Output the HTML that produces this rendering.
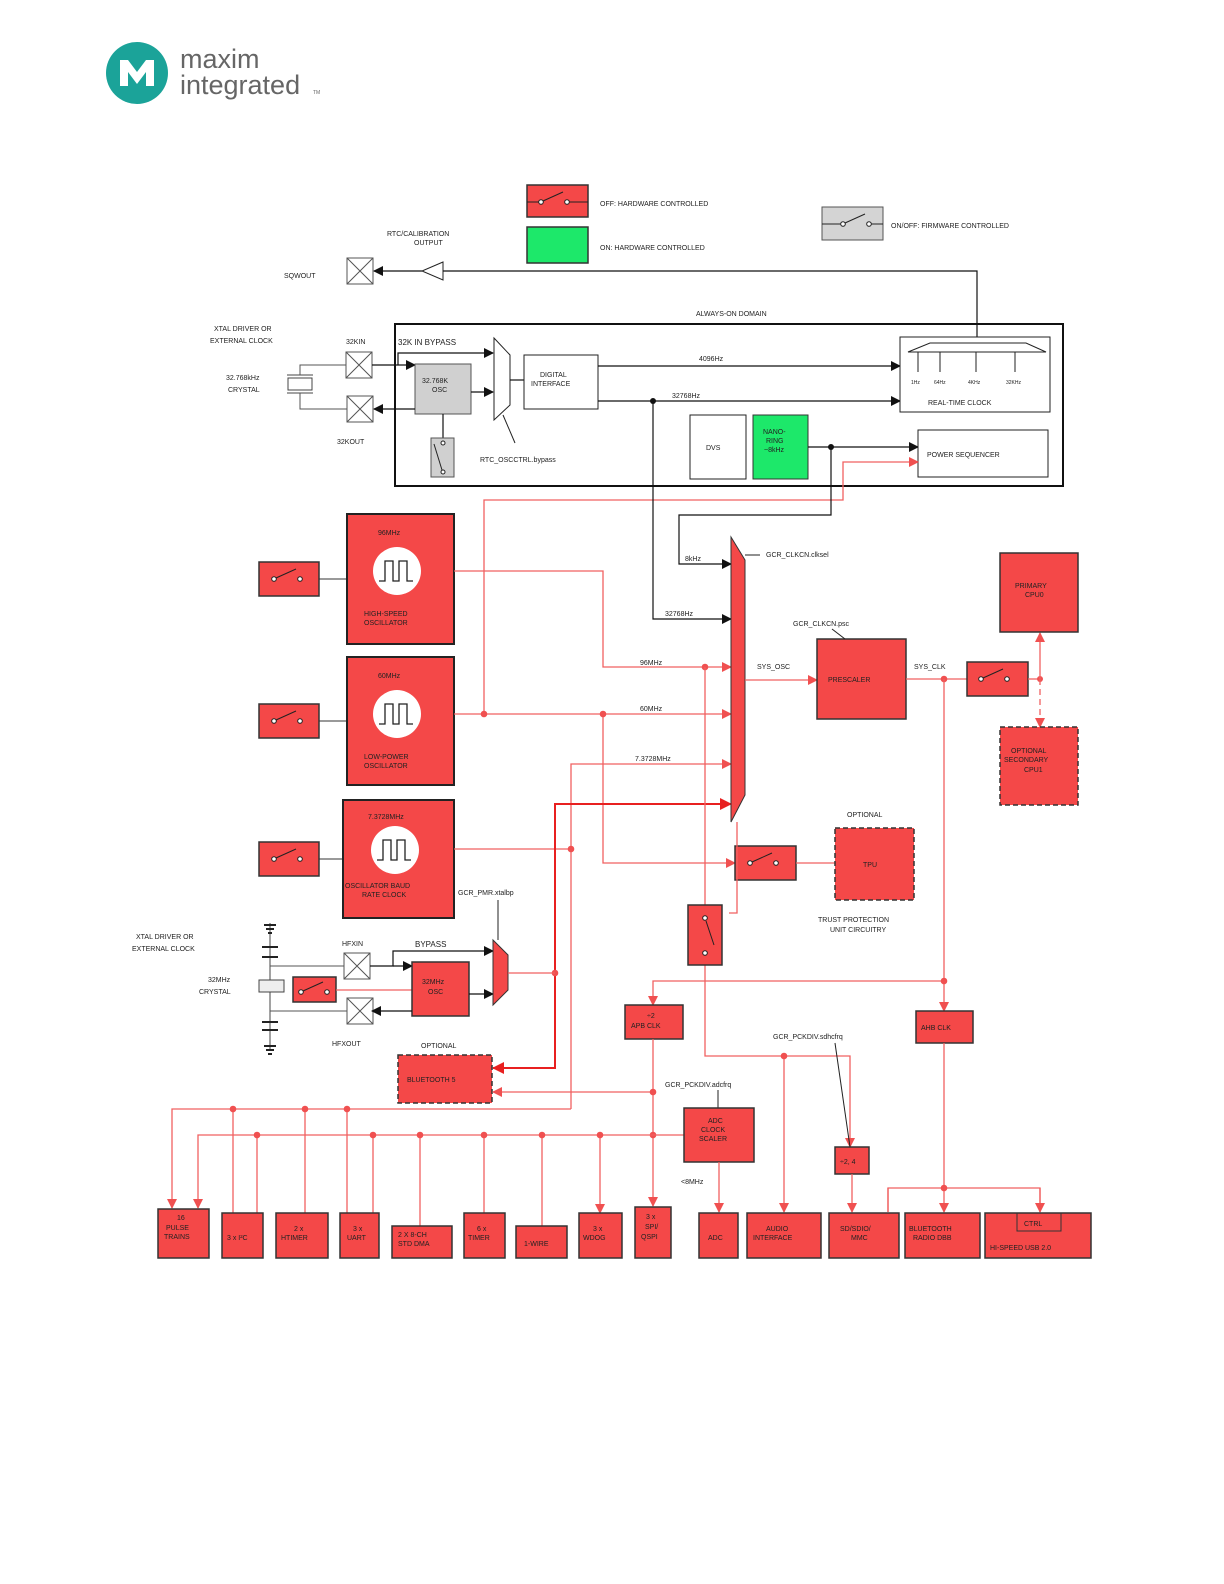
<!DOCTYPE html>
<html><head><meta charset="utf-8"><style>
html,body{margin:0;padding:0;background:#fff;overflow:hidden;width:1224px;height:1584px}
svg{display:block}
text{font-family:"Liberation Sans",sans-serif;font-size:7px;fill:#222}
.r{fill:#f44848;stroke:#333;stroke-width:1.5}
.rd{fill:#f44848;stroke:#333;stroke-width:1.5;stroke-dasharray:5 3}
.w{fill:#fff;stroke:#222;stroke-width:1}
.k{stroke:#111;stroke-width:1.2;fill:none}
.l{stroke:#f06060;stroke-width:1.3;fill:none}
.lb{stroke:#e82020;stroke-width:2;fill:none}
.dr{fill:#f05050}
</style></head><body>
<svg width="1224" height="1584" viewBox="0 0 1224 1584" xmlns="http://www.w3.org/2000/svg">
<defs>
<marker id="ak" markerWidth="10" markerHeight="10" refX="9" refY="5" orient="auto" markerUnits="userSpaceOnUse"><path d="M0,0 L10,5 L0,10z" fill="#111"/></marker>
<marker id="ar" markerWidth="10" markerHeight="10" refX="9" refY="5" orient="auto" markerUnits="userSpaceOnUse"><path d="M0,0 L10,5 L0,10z" fill="#f05050"/></marker>
<marker id="arb" markerWidth="12" markerHeight="12" refX="11" refY="6" orient="auto" markerUnits="userSpaceOnUse"><path d="M0,0 L12,6 L0,12z" fill="#e82020"/></marker>
<g id="pad"><rect x="0" y="0" width="26" height="26" fill="#fff" stroke="#555"/><path d="M0,0L26,26M26,0L0,26" stroke="#555"/></g>
<g id="sw"><circle cx="0" cy="0" r="2.3" fill="#fff" stroke="#222"/><circle cx="26" cy="0" r="2.3" fill="#fff" stroke="#222"/><path d="M2,-1L22,-10" stroke="#222"/></g>
<g id="osc"><circle cx="0" cy="0" r="24" fill="#fff"/><path d="M-18,10H-12V-10H-4V10H2V-10H10V10H16" stroke="#222" fill="none" stroke-width="1.3"/></g>
</defs>

<!-- logo -->
<circle cx="137" cy="73" r="31" fill="#1ba399"/>
<path d="M120,60h8l9,12l9,-12h8v26h-8v-14l-9,12l-9,-12v14h-8z" fill="#fff"/>
<text x="180" y="68" style="font-size:27px;fill:#666">maxim</text>
<text x="180" y="94" style="font-size:27px;fill:#666">integrated</text>
<text x="313" y="94" style="font-size:5px;fill:#666">TM</text>

<!-- legend -->
<rect x="527" y="185" width="61" height="32" class="r"/>
<use href="#sw" x="541" y="202"/><path d="M527,202h12M569,202h19" stroke="#222"/>
<text x="600" y="206">OFF: HARDWARE CONTROLLED</text>
<rect x="527" y="227" width="61" height="36" fill="#1de86a" stroke="#333" stroke-width="1.5"/>
<text x="600" y="250">ON: HARDWARE CONTROLLED</text>
<rect x="822" y="207" width="61" height="33" fill="#d4d4d4" stroke="#555"/>
<use href="#sw" x="843" y="224"/><path d="M822,224h19M871,224h12" stroke="#222"/>
<text x="891" y="228">ON/OFF: FIRMWARE CONTROLLED</text>

<!-- SQWOUT -->
<use href="#pad" x="347" y="258"/>
<text x="284" y="278">SQWOUT</text>
<text x="387" y="236">RTC/CALIBRATION</text><text x="414" y="245">OUTPUT</text>
<path d="M443,262L422,271L443,280z" fill="#fff" stroke="#222"/>
<path d="M977,340V271H443" class="k"/><path d="M422,271H374" class="k" marker-end="url(#ak)"/>

<!-- always on -->
<text x="696" y="316">ALWAYS-ON DOMAIN</text>
<rect x="395" y="324" width="668" height="162" fill="none" stroke="#111" stroke-width="2"/>
<text x="214" y="331">XTAL DRIVER OR</text><text x="210" y="343">EXTERNAL CLOCK</text>
<text x="346" y="344">32KIN</text>
<use href="#pad" x="346" y="352"/>
<text x="226" y="380">32.768kHz</text><text x="228" y="392">CRYSTAL</text>
<rect x="288" y="378" width="24" height="12" fill="#fff" stroke="#444"/><path d="M287,375h26M287,393h26" stroke="#444"/>
<path d="M300,375V365H346M300,393V409H347" stroke="#555" fill="none"/>
<use href="#pad" x="347" y="396"/>
<text x="337" y="444">32KOUT</text>
<text x="398" y="345" style="font-size:8px">32K IN BYPASS</text>
<path d="M372,365H415" class="k" marker-end="url(#ak)"/>
<path d="M398,365V353H493" class="k" marker-end="url(#ak)"/>
<rect x="415" y="364" width="56" height="50" fill="#d0d0d0" stroke="#555"/>
<text x="422" y="383">32.768K</text><text x="432" y="392">OSC</text>
<path d="M471,392H493" class="k" marker-end="url(#ak)"/>
<path d="M415,409H374" class="k" marker-end="url(#ak)"/>
<path d="M443,414V438" class="k"/>
<rect x="431" y="438" width="23" height="39" fill="#d0d0d0" stroke="#555"/>
<circle cx="443" cy="443" r="2" fill="#fff" stroke="#222"/><circle cx="443" cy="472" r="2" fill="#fff" stroke="#222"/><path d="M434,444L442,470" stroke="#222"/>
<path d="M494,338L510,355V405L494,420z" fill="#fff" stroke="#222"/>
<path d="M503,415L515,443" stroke="#222"/>
<text x="480" y="462">RTC_OSCCTRL.bypass</text>
<path d="M510,380H524" class="k"/>
<rect x="524" y="355" width="74" height="54" class="w"/>
<text x="540" y="377">DIGITAL</text><text x="531" y="386">INTERFACE</text>
<path d="M598,366H900" class="k" marker-end="url(#ak)"/><text x="699" y="361">4096Hz</text>
<path d="M598,401H900" class="k" marker-end="url(#ak)"/><text x="672" y="398">32768Hz</text>
<circle cx="653" cy="401" r="3" fill="#111"/>
<rect x="900" y="337" width="150" height="75" class="w"/>
<path d="M908,352L930,343H1026L1046,352z" fill="#fff" stroke="#222"/>
<path d="M918,352v20M940,352v20M976,352v20M1015,352v20" stroke="#222"/>
<text x="911" y="384" style="font-size:5px">1Hz</text><text x="934" y="384" style="font-size:5px">64Hz</text><text x="968" y="384" style="font-size:5px">4KHz</text><text x="1006" y="384" style="font-size:5px">32KHz</text>
<text x="928" y="405">REAL-TIME CLOCK</text>
<rect x="690" y="415" width="56" height="64" class="w"/><text x="706" y="450">DVS</text>
<rect x="753" y="415" width="55" height="64" fill="#1de86a" stroke="#333"/>
<text x="763" y="434">NANO-</text><text x="766" y="443">RING</text><text x="764" y="452">~8kHz</text>
<path d="M808,447H918" class="k" marker-end="url(#ak)"/><circle cx="831" cy="447" r="3" fill="#111"/>
<rect x="918" y="430" width="130" height="47" class="w"/><text x="927" y="457">POWER SEQUENCER</text>
<path d="M484,714V500H843V462H918" class="l" marker-end="url(#ar)"/>
<path d="M831,447V515H679V564H731" class="k" marker-end="url(#ak)"/><text x="685" y="561">8kHz</text>
<path d="M653,401V619H731" class="k" marker-end="url(#ak)"/><text x="665" y="616">32768Hz</text>

<!-- oscillators -->
<rect x="259" y="562" width="60" height="34" class="r"/><use href="#sw" x="274" y="579"/><path d="M319,579H347" stroke="#333"/>
<rect x="347" y="514" width="107" height="130" fill="#f44848" stroke="#222" stroke-width="2"/>
<use href="#osc" x="397" y="571"/><text x="378" y="535">96MHz</text><text x="364" y="616">HIGH-SPEED</text><text x="364" y="625">OSCILLATOR</text>
<rect x="259" y="704" width="60" height="34" class="r"/><use href="#sw" x="274" y="721"/><path d="M319,721H347" stroke="#333"/>
<rect x="347" y="657" width="107" height="128" fill="#f44848" stroke="#222" stroke-width="2"/>
<use href="#osc" x="397" y="714"/><text x="378" y="678">60MHz</text><text x="364" y="759">LOW-POWER</text><text x="364" y="768">OSCILLATOR</text>
<rect x="259" y="842" width="60" height="34" class="r"/><use href="#sw" x="274" y="859"/><path d="M319,859H343" stroke="#333"/>
<rect x="343" y="800" width="111" height="118" fill="#f44848" stroke="#222" stroke-width="2"/>
<use href="#osc" x="395" y="850"/><text x="368" y="819">7.3728MHz</text><text x="345" y="888">OSCILLATOR BAUD</text><text x="362" y="897">RATE CLOCK</text>

<!-- main mux -->
<path d="M454,571H603V667H731" class="l" marker-end="url(#ar)"/><text x="640" y="665">96MHz</text>
<path d="M454,714H731" class="l" marker-end="url(#ar)"/><text x="640" y="711">60MHz</text>
<path d="M603,714V863H735" class="l" marker-end="url(#ar)"/>
<path d="M454,849H571" class="l"/>
<path d="M571,1109V764H731" class="l" marker-end="url(#ar)"/><text x="635" y="761">7.3728MHz</text>
<path d="M555,973V804H731" class="lb" marker-end="url(#arb)"/>
<path d="M555,973V1068H493" class="lb" marker-end="url(#arb)"/>
<circle cx="484" cy="714" r="3.3" class="dr"/><circle cx="603" cy="714" r="3.3" class="dr"/><circle cx="705" cy="667" r="3.3" class="dr"/><circle cx="571" cy="849" r="3.3" class="dr"/><circle cx="555" cy="973" r="3.3" class="dr"/>
<path d="M731,537L745,560V795L731,822z" fill="#f44848" stroke="#333"/>
<path d="M745,555H760" stroke="#222"/><text x="766" y="557">GCR_CLKCN.clksel</text>
<path d="M745,680H817" class="l" marker-end="url(#ar)"/><text x="757" y="669">SYS_OSC</text>
<rect x="817" y="639" width="89" height="80" class="r"/><text x="828" y="682">PRESCALER</text>
<text x="793" y="626">GCR_CLKCN.psc</text><path d="M832,629L845,639" stroke="#222"/>
<path d="M906,679H967" class="l"/><text x="914" y="669">SYS_CLK</text><circle cx="944" cy="679" r="3.3" class="dr"/>
<rect x="967" y="662" width="61" height="34" class="r"/><use href="#sw" x="981" y="679"/>
<path d="M1028,679H1040" class="l"/><circle cx="1040" cy="679" r="3" class="dr"/>
<path d="M1040,679V633" class="l" marker-end="url(#ar)"/>
<path d="M1040,679V727" class="l" stroke-dasharray="6 4" marker-end="url(#ar)"/>
<rect x="1000" y="553" width="78" height="79" class="r"/><text x="1015" y="588">PRIMARY</text><text x="1025" y="597">CPU0</text>
<rect x="1000" y="727" width="78" height="78" class="rd"/><text x="1011" y="753">OPTIONAL</text><text x="1004" y="762">SECONDARY</text><text x="1024" y="772">CPU1</text>
<rect x="735" y="846" width="61" height="34" class="r"/><use href="#sw" x="750" y="863"/>
<path d="M796,863H835" class="l"/>
<rect x="835" y="828" width="79" height="72" class="rd"/><text x="863" y="867">TPU</text>
<text x="847" y="817">OPTIONAL</text>
<text x="818" y="922">TRUST PROTECTION</text><text x="830" y="932">UNIT CIRCUITRY</text>
<!-- vertical switch -->
<path d="M737,822V913H729" class="l"/>
<path d="M705,667V1056H850V1147" class="l" marker-end="url(#ar)"/>
<rect x="688" y="905" width="34" height="60" class="r"/>
<circle cx="705" cy="918" r="2.3" fill="#fff" stroke="#222"/><circle cx="705" cy="953" r="2.3" fill="#fff" stroke="#222"/><path d="M706,921L714,945" stroke="#222"/>
<path d="M944,679V1011" class="l" marker-end="url(#ar)"/>
<path d="M944,981H653V1005" class="l" marker-end="url(#ar)"/><circle cx="944" cy="981" r="3.3" class="dr"/>
<rect x="625" y="1005" width="58" height="34" class="r"/><text x="647" y="1018">÷2</text><text x="631" y="1028">APB CLK</text>
<rect x="916" y="1011" width="57" height="32" class="r"/><text x="921" y="1030">AHB CLK</text>

<!-- 32MHz section -->
<text x="136" y="939">XTAL DRIVER OR</text><text x="132" y="951">EXTERNAL CLOCK</text>
<text x="208" y="982">32MHz</text><text x="199" y="994">CRYSTAL</text>
<path d="M270,923V1050" stroke="#444"/>
<path d="M264,925h12M266,929h8M268,933h4M262,947h16M262,957h16M262,1022h16M262,1030h16M264,1046h12M266,1050h8M268,1054h4" stroke="#222" stroke-width="2"/>
<rect x="259" y="980" width="25" height="12" fill="#eee" stroke="#444"/>
<path d="M270,966H344M270,1011H347" stroke="#555"/>
<rect x="293" y="977" width="43" height="25" class="r"/><use href="#sw" x="301" y="992"/>
<path d="M336,990H412" class="l"/>
<text x="342" y="946">HFXIN</text>
<use href="#pad" x="344" y="953"/>
<use href="#pad" x="347" y="998"/>
<text x="332" y="1046">HFXOUT</text>
<text x="415" y="947" style="font-size:8px">BYPASS</text>
<path d="M370,966H393V951H493" class="k" marker-end="url(#ak)"/>
<path d="M393,966H412" class="k" marker-end="url(#ak)"/>
<rect x="412" y="962" width="57" height="54" class="r"/><text x="422" y="984">32MHz</text><text x="428" y="994">OSC</text>
<path d="M469,994H493" class="k" marker-end="url(#ak)"/>
<path d="M412,1011H372" class="k" marker-end="url(#ak)"/>
<path d="M493,940L508,955V990L493,1005z" fill="#f44848" stroke="#333"/>
<path d="M508,973H555" class="l"/>
<path d="M498,940V900" stroke="#222"/><text x="458" y="895">GCR_PMR.xtalbp</text>
<rect x="398" y="1055" width="94" height="48" class="rd"/><text x="407" y="1082">BLUETOOTH 5</text>
<text x="421" y="1048">OPTIONAL</text>
<path d="M653,1092H493" class="l" marker-end="url(#ar)"/>
<text x="665" y="1087">GCR_PCKDIV.adcfrq</text><path d="M718,1090V1108" stroke="#222"/>

<!-- buses -->
<path d="M653,1039V1206" class="l" marker-end="url(#ar)"/>
<circle cx="653" cy="1092" r="3.3" class="dr"/><circle cx="653" cy="1135" r="3.3" class="dr"/>
<path d="M571,1109H172V1208" class="l" marker-end="url(#ar)"/>
<path d="M684,1135H198V1208" class="l" marker-end="url(#ar)"/>
<path d="M233,1109V1213M257,1135V1213M305,1109V1213M347,1109V1213M373,1135V1213M420,1135V1226M484,1135V1213M542,1135V1226M600,1135V1213" class="l" marker-end="url(#ar)"/>
<g class="dr"><circle cx="233" cy="1109" r="3.3"/><circle cx="305" cy="1109" r="3.3"/><circle cx="347" cy="1109" r="3.3"/><circle cx="257" cy="1135" r="3.3"/><circle cx="373" cy="1135" r="3.3"/><circle cx="420" cy="1135" r="3.3"/><circle cx="484" cy="1135" r="3.3"/><circle cx="542" cy="1135" r="3.3"/><circle cx="600" cy="1135" r="3.3"/></g>
<rect x="684" y="1108" width="70" height="54" class="r"/><text x="708" y="1123">ADC</text><text x="701" y="1132">CLOCK</text><text x="699" y="1141">SCALER</text>
<path d="M719,1162V1212" class="l" marker-end="url(#ar)"/><text x="681" y="1184">&lt;8MHz</text>
<path d="M784,1056V1212" class="l" marker-end="url(#ar)"/><circle cx="784" cy="1056" r="3.3" class="dr"/>
<text x="773" y="1039">GCR_PCKDIV.sdhcfrq</text><path d="M835,1043L850,1147" stroke="#222"/>
<rect x="835" y="1147" width="34" height="27" class="r"/><text x="840" y="1164">÷2, 4</text>
<path d="M852,1174V1212" class="l" marker-end="url(#ar)"/>
<path d="M944,1043V1212" class="l" marker-end="url(#ar)"/>
<path d="M888,1212V1188H1040V1212" class="l"/><path d="M888,1188V1212M1040,1188V1212" class="l" marker-end="url(#ar)"/><circle cx="944" cy="1188" r="3.3" class="dr"/>

<!-- peripherals -->
<rect x="158" y="1209" width="51" height="49" class="r"/><text x="177" y="1220">16</text><text x="166" y="1230">PULSE</text><text x="164" y="1239">TRAINS</text>
<rect x="222" y="1213" width="41" height="45" class="r"/><text x="227" y="1240">3 x I²C</text>
<rect x="276" y="1213" width="52" height="45" class="r"/><text x="294" y="1231">2 x</text><text x="281" y="1240">HTIMER</text>
<rect x="340" y="1213" width="39" height="45" class="r"/><text x="353" y="1231">3 x</text><text x="347" y="1240">UART</text>
<rect x="392" y="1226" width="60" height="32" class="r"/><text x="398" y="1237">2 X 8-CH</text><text x="398" y="1246">STD DMA</text>
<rect x="464" y="1213" width="41" height="45" class="r"/><text x="477" y="1231">6 x</text><text x="468" y="1240">TIMER</text>
<rect x="516" y="1226" width="51" height="32" class="r"/><text x="524" y="1246">1-WIRE</text>
<rect x="579" y="1213" width="43" height="45" class="r"/><text x="593" y="1231">3 x</text><text x="583" y="1240">WDOG</text>
<rect x="635" y="1207" width="36" height="51" class="r"/><text x="646" y="1219">3 x</text><text x="645" y="1229">SPI/</text><text x="641" y="1239">QSPI</text>
<rect x="699" y="1213" width="39" height="45" class="r"/><text x="708" y="1240">ADC</text>
<rect x="747" y="1213" width="74" height="45" class="r"/><text x="766" y="1231">AUDIO</text><text x="753" y="1240">INTERFACE</text>
<rect x="829" y="1213" width="70" height="45" class="r"/><text x="840" y="1231">SD/SDIO/</text><text x="851" y="1240">MMC</text>
<rect x="905" y="1213" width="75" height="45" class="r"/><text x="909" y="1231">BLUETOOTH</text><text x="913" y="1240">RADIO DBB</text>
<rect x="985" y="1213" width="106" height="45" class="r"/><rect x="1017" y="1213" width="44" height="18" fill="none" stroke="#333"/><text x="1024" y="1226">CTRL</text><text x="990" y="1250">HI-SPEED USB 2.0</text>
</svg>
</body></html>
